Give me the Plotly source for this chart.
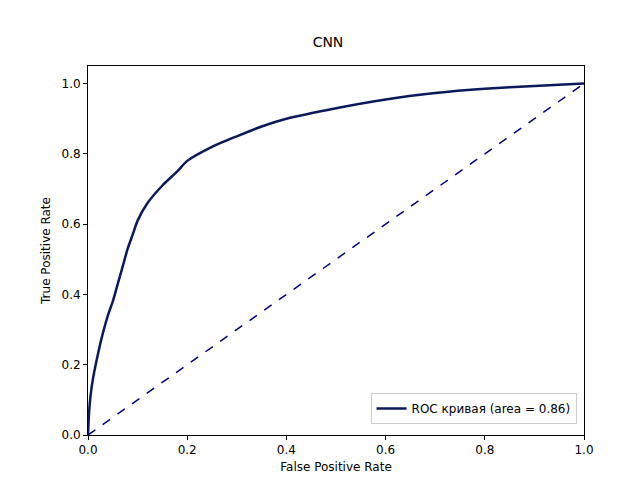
import plotly.graph_objects as go

# ROC curve points
fpr = [0.0, 0.002, 0.005, 0.01, 0.02, 0.03, 0.04, 0.05, 0.06, 0.07, 0.08, 0.09, 0.10,
       0.12, 0.15, 0.18, 0.20, 0.25, 0.30, 0.35, 0.40, 0.50, 0.60, 0.70, 0.80, 0.90, 1.0]
tpr = [0.0, 0.06, 0.11, 0.16, 0.23, 0.29, 0.34, 0.38, 0.43, 0.48, 0.53, 0.57, 0.61,
       0.66, 0.71, 0.75, 0.78, 0.82, 0.85, 0.878, 0.90, 0.93, 0.955, 0.973, 0.985, 0.993, 1.0]
diag = [0.0, 1.0]
roc_auc = 0.86

fig = go.Figure()
fig.add_trace(go.Scatter(x=fpr, y=tpr, mode="lines",
                         line=dict(color="#0a1a5c", width=2.5, shape="spline", smoothing=0.6),
                         name=f"ROC кривая (area = {roc_auc:.2f})"))
fig.add_trace(go.Scatter(x=diag, y=diag, mode="lines",
                         line=dict(color="navy", width=1.5, dash="dash"),
                         showlegend=False))

axis = dict(showgrid=False, zeroline=False, showline=True, linecolor="black", mirror=True,
            ticks="outside", ticklen=4, tickcolor="black", automargin=False,
            tickfont=dict(size=12), title_font=dict(size=12))
fig.update_layout(
    width=640, height=480,
    paper_bgcolor="white", plot_bgcolor="white",
    font=dict(family="DejaVu Sans", size=12, color="black"),
    title=dict(text="CNN", x=0.5, xanchor="center", y=0.93, yanchor="middle",
               font=dict(size=14)),
    margin=dict(l=80, r=64, t=58, b=53, pad=0),
    xaxis=dict(axis, range=[0, 1], dtick=0.2, tickformat=".1f",
               title=dict(text="False Positive Rate", standoff=6)),
    yaxis=dict(axis, range=[0, 1.05], dtick=0.2, tickformat=".1f",
               title=dict(text="True Positive Rate", standoff=8)),
    legend=dict(x=0.985, y=0.03, xanchor="right", yanchor="bottom",
                bordercolor="#cccccc", borderwidth=1, bgcolor="white"),
)
fig.write_html("out.html")
